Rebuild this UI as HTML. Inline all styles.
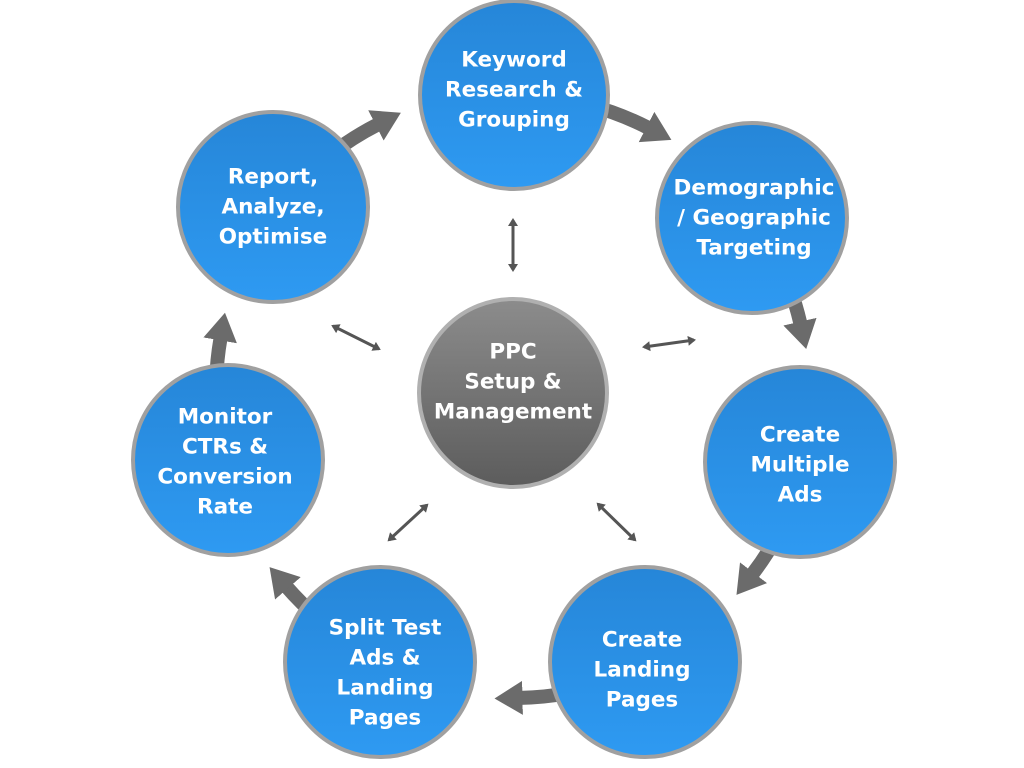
<!DOCTYPE html>
<html><head><meta charset="utf-8"><style>
html,body{margin:0;padding:0;background:#fff;}
svg{display:block;}
text{font-family:"DejaVu Sans","Liberation Sans",sans-serif;font-weight:bold;font-size:21.5px;fill:#fff;text-anchor:middle;dominant-baseline:central;}
</style></head><body>
<svg width="1024" height="768" viewBox="0 0 1024 768" xmlns="http://www.w3.org/2000/svg">
<defs>
<linearGradient id="bl" x1="0" y1="0" x2="0" y2="1"><stop offset="0" stop-color="#2686d8"/><stop offset="1" stop-color="#2e9af2"/></linearGradient>
<linearGradient id="gr" x1="0" y1="0" x2="0" y2="1"><stop offset="0" stop-color="#8c8c8c"/><stop offset="1" stop-color="#5c5c5c"/></linearGradient>
<marker id="ah" markerUnits="userSpaceOnUse" markerWidth="40" markerHeight="40" refX="2" refY="17" orient="auto"><path d="M0,0 L28,17 L0,34 z" fill="#6b6b6b"/></marker>
<marker id="sh" markerUnits="userSpaceOnUse" markerWidth="12" markerHeight="12" refX="6" refY="5" orient="auto"><path d="M0,0 L8,5 L0,10 z" fill="#555"/></marker>
<marker id="ss" markerUnits="userSpaceOnUse" markerWidth="12" markerHeight="12" refX="2" refY="5" orient="auto"><path d="M8,0 L0,5 L8,10 z" fill="#555"/></marker>
</defs>
<g fill="none" stroke="#6b6b6b" stroke-width="14" marker-end="url(#ah)">
<path d="M329.5,155.2 A298,298 0 0 1 377.7,124.5"/>
<path d="M589.3,105.1 A295,295 0 0 1 648.3,127.9"/>
<path d="M789,285.7 A295,295 0 0 1 800.4,323.6"/>
<path d="M777.1,536.4 A302,302 0 0 1 752.3,574.3"/>
<path d="M568.6,693 A308,308 0 0 1 520.5,697.9"/>
<path d="M317.8,617.8 A300,300 0 0 1 286.6,586.8"/>
<path d="M216.1,384.8 A297,297 0 0 1 220.5,338.4"/>
</g>
<g stroke="#555" stroke-width="3" marker-end="url(#sh)" marker-start="url(#ss)">
<line x1="513" y1="220" x2="513" y2="270"/>
<line x1="333" y1="326" x2="379" y2="349"/>
<line x1="644" y1="347" x2="694" y2="340"/>
<line x1="389" y1="540" x2="427" y2="505"/>
<line x1="598" y1="504" x2="635" y2="540"/>
</g>
<g stroke="#a0a0a0" stroke-width="4">
<circle cx="514" cy="95" r="94" fill="url(#bl)"/>
<circle cx="752" cy="218" r="95" fill="url(#bl)"/>
<circle cx="800" cy="462" r="95" fill="url(#bl)"/>
<circle cx="645" cy="662" r="95" fill="url(#bl)"/>
<circle cx="380" cy="662" r="95" fill="url(#bl)"/>
<circle cx="228" cy="460" r="95" fill="url(#bl)"/>
<circle cx="273" cy="207" r="95" fill="url(#bl)"/>
<circle cx="513" cy="393" r="94" fill="url(#gr)" stroke="#b0b0b0"/>
</g>
<text x="514" y="60">Keyword</text><text x="514" y="90">Research &amp;</text><text x="514" y="120">Grouping</text>
<text x="754" y="188">Demographic</text><text x="754" y="218">/ Geographic</text><text x="754" y="248">Targeting</text>
<text x="800" y="435">Create</text><text x="800" y="465">Multiple</text><text x="800" y="495">Ads</text>
<text x="642" y="640">Create</text><text x="642" y="670">Landing</text><text x="642" y="700">Pages</text>
<text x="385" y="628">Split Test</text><text x="385" y="658">Ads &amp;</text><text x="385" y="688">Landing</text><text x="385" y="718">Pages</text>
<text x="225" y="417">Monitor</text><text x="225" y="447">CTRs &amp;</text><text x="225" y="477">Conversion</text><text x="225" y="507">Rate</text>
<text x="273" y="177">Report,</text><text x="273" y="207">Analyze,</text><text x="273" y="237">Optimise</text>
<text x="513" y="352">PPC</text><text x="513" y="382">Setup &amp;</text><text x="513" y="412">Management</text>
</svg>
</body></html>
